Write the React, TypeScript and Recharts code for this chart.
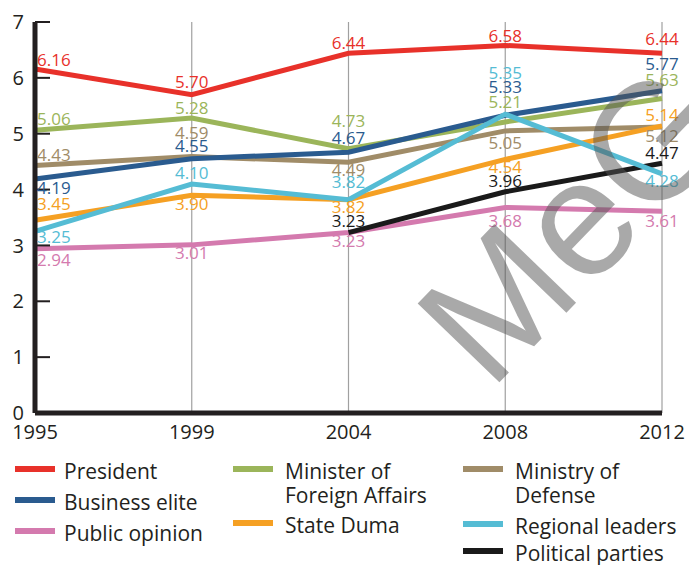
import React from "react";
import { LineChart, Line, XAxis, YAxis, CartesianGrid } from "recharts";

const years = ["1995", "1999", "2004", "2008", "2012"];
const yTicks = [0, 1, 2, 3, 4, 5, 6, 7];

const president = [6.16, 5.7, 6.44, 6.58, 6.44];
const businessElite = [4.19, 4.55, 4.67, 5.33, 5.77];
const publicOpinion = [2.94, 3.01, 3.23, 3.68, 3.61];
const foreignMinister = [5.06, 5.28, 4.73, 5.21, 5.63];
const stateDuma = [3.45, 3.9, 3.82, 4.54, 5.14];
const defenseMinistry = [4.43, 4.59, 4.49, 5.05, 5.12];
const regionalLeaders = [3.25, 4.1, 3.82, 5.35, 4.28];
const politicalParties = [null, null, 3.23, 3.96, 4.47];

const data = years.map((year, i) => ({
  year,
  president: president[i],
  businessElite: businessElite[i],
  publicOpinion: publicOpinion[i],
  foreignMinister: foreignMinister[i],
  stateDuma: stateDuma[i],
  defenseMinistry: defenseMinistry[i],
  regionalLeaders: regionalLeaders[i],
  politicalParties: politicalParties[i],
}));

const colors: Record<string, string> = {
  president: "#e8312a",
  businessElite: "#2a5b8f",
  publicOpinion: "#d47aae",
  foreignMinister: "#9bb55a",
  stateDuma: "#f5a023",
  defenseMinistry: "#a08c68",
  regionalLeaders: "#55bcd4",
  politicalParties: "#1a1a1a",
};

// vertical nudge of each value label (px, from the point)
const labelDy: Record<string, number[]> = {
  president: [-9, -13, -10, -10, -14],
  foreignMinister: [-11, -10, -28, -20, -19],
  businessElite: [9, -13, -14, -28, -27],
  defenseMinistry: [-11, -24, 8, 12, 9],
  stateDuma: [-16, 9, 7, 7, -11],
  regionalLeaders: [5, -11, -18, -41, 7],
  publicOpinion: [11, 8, 8, 13, 10],
  politicalParties: [0, 0, -12, -11, -10],
};

const drawOrder = [
  "defenseMinistry",
  "foreignMinister",
  "businessElite",
  "stateDuma",
  "publicOpinion",
  "politicalParties",
  "regionalLeaders",
  "president",
];

// legend: [key, name lines, swatch left, swatch centre y, text left]
const legendItems: [string, string[], number, number, number][] = [
  ["president", ["President"], 15, 469, 64],
  ["businessElite", ["Business elite"], 15, 500, 64],
  ["publicOpinion", ["Public opinion"], 15, 531, 64],
  ["foreignMinister", ["Minister of", "Foreign Affairs"], 233, 469, 285],
  ["stateDuma", ["State Duma"], 233, 523, 285],
  ["defenseMinistry", ["Ministry of", "Defense"], 463, 469, 515],
  ["regionalLeaders", ["Regional leaders"], 463, 524, 515],
  ["politicalParties", ["Political parties"], 463, 551, 515],
];

const XTick = (props: any) => {
  const { x, y, payload } = props;
  return (
    <text x={x} y={y + 26} textAnchor="middle" fontSize={20} fill="#231f20" fontFamily="Open Sans">
      {payload.value}
    </text>
  );
};

const YTick = (props: any) => {
  const { x, y, payload } = props;
  return (
    <g>
      {payload.value > 0 && <line x1={x} x2={x + 15} y1={y} y2={y} stroke="#231f20" strokeWidth={2} />}
      <text x={x - 11} y={y} dy="0.36em" textAnchor="end" fontSize={20} fill="#231f20" fontFamily="Open Sans">
        {payload.value}
      </text>
    </g>
  );
};

const makeLabel = (key: string) => (props: any) => {
  const { x, y, value, index } = props;
  if (value == null || x == null || y == null) return null;
  const first = index === 0;
  return (
    <text
      key={key + index}
      x={first ? x + 2 : x}
      y={y + labelDy[key][index]}
      dy="0.36em"
      textAnchor={first ? "start" : "middle"}
      fontSize={17}
      fill={colors[key]}
      fontFamily="Open Sans"
    >
      {Number(value).toFixed(2)}
    </text>
  );
};

export default function App() {
  return (
    <div style={{ position: "absolute", left: 0, top: 0, width: 689, height: 565, background: "#fff", overflow: "hidden" }}>
      <LineChart width={689} height={450} data={data} margin={{ top: 22, right: 27, left: 0, bottom: 10 }}>
        <CartesianGrid horizontal={false} stroke="#a0a0a0" strokeWidth={1.2} />
        <XAxis
          dataKey="year"
          height={27}
          padding={{ left: 0, right: 0 }}
          tickLine={false}
          tickSize={0}
          tickMargin={0}
          axisLine={{ stroke: "#231f20", strokeWidth: 5 }}
          tick={<XTick />}
          interval={0}
        />
        <YAxis
          width={35}
          domain={[0, 7]}
          ticks={yTicks}
          tickLine={false}
          tickSize={0}
          tickMargin={0}
          axisLine={{ stroke: "#231f20", strokeWidth: 5 }}
          tick={<YTick />}
          interval={0}
        />
        {drawOrder.map((key) => (
          <Line
            key={key}
            dataKey={key}
            type="linear"
            stroke={colors[key]}
            strokeWidth={5}
            dot={false}
            isAnimationActive={false}
            connectNulls={false}
            label={makeLabel(key)}
          />
        ))}
      </LineChart>
      <svg width={689} height={450} style={{ position: "absolute", left: 0, top: 0, pointerEvents: "none" }}>
        <text
          x={0}
          y={0}
          transform="translate(490,392) rotate(-46)"
          fontSize={165}
          fontFamily="Liberation Sans"
          fill="#555"
          opacity={0.5}
        >
          MeG
        </text>
      </svg>
      {legendItems.map(([key, lines, left, cy, textLeft]) => (
        <div key={key} style={{ position: "absolute", left, top: cy - 10 }}>
          <div style={{ position: "absolute", left: 0, top: 7, width: 40, height: 6, background: colors[key] }} />
          <div
            style={{
              position: "absolute",
              left: textLeft - left,
              top: 0,
              whiteSpace: "nowrap",
              fontFamily: "'Open Sans', sans-serif",
              fontSize: 21,
              lineHeight: "24px",
              color: "#231f20",
            }}
          >
            {lines.map((l) => (
              <div key={l}>{l}</div>
            ))}
          </div>
        </div>
      ))}
    </div>
  );
}
